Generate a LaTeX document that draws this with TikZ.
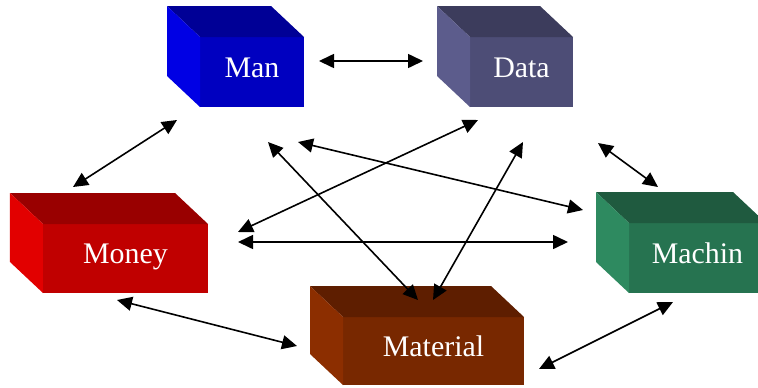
\documentclass[tikz,border=0pt]{standalone}
\usepackage{fontspec}
\setmainfont{Liberation Serif}
\usetikzlibrary{arrows.meta}
\definecolor{manF}{RGB}{0,0,192}
\definecolor{manT}{RGB}{0,0,150}
\definecolor{manS}{RGB}{0,0,228}
\definecolor{dataF}{RGB}{77,77,118}
\definecolor{dataT}{RGB}{60,60,92}
\definecolor{dataS}{RGB}{92,92,140}
\definecolor{monF}{RGB}{192,0,0}
\definecolor{monT}{RGB}{153,0,0}
\definecolor{monS}{RGB}{226,0,0}
\definecolor{matF}{RGB}{120,40,0}
\definecolor{matT}{RGB}{94,30,0}
\definecolor{matS}{RGB}{140,46,0}
\definecolor{macF}{RGB}{38,115,80}
\definecolor{macT}{RGB}{31,90,63}
\definecolor{macS}{RGB}{46,138,96}
\tikzset{
  x=1bp, y=-1bp,
  boxface/.style={inner sep=0pt, outer sep=0pt, text=white,
    font=\fontsize{30}{33}\selectfont, text height=20bp, text depth=10bp},
  link/.style={line width=1.6bp, {Triangle[length=15bp,width=14bp]}-{Triangle[length=15bp,width=14bp]}},
}
\newcommand{\mycube}[9]{%
  % #1 name, #2 cx, #3 cy, #4 w, #5 h, #6 front, #7 top, #8 side, #9 label
  \node[boxface, fill=#6, minimum width=#4bp, minimum height=#5bp] (#1) at (#2,#3) {#9};
  \fill[#7] (#1.north west) -- (#1.north east) -- ++(-33,-31) -- ++(-#4,0) -- cycle;
  \fill[#8] (#1.north west) -- ++(-33,-31) -- ++(0,#5) -- (#1.south west) -- cycle;
}
\begin{document}
\begin{tikzpicture}
\useasboundingbox (0,0) rectangle (758,387);
\mycube{man}{252}{72}{104}{70}{manF}{manT}{manS}{Man}
\mycube{data}{521.5}{72}{103}{70}{dataF}{dataT}{dataS}{Data}
\mycube{money}{125.5}{258.5}{165}{69}{monF}{monT}{monS}{Money}
\mycube{material}{433.5}{351}{181}{68}{matF}{matT}{matS}{Material}
\mycube{machin}{697.5}{258}{137}{70}{macF}{macT}{macS}{Machin}
% arrow end points
\coordinate (manR) at (319,61);
\coordinate (dataL) at (423,61);
\coordinate (manBL) at (177,120);
\coordinate (moneyTL) at (73,187);
\coordinate (dataB1) at (478,120);
\coordinate (moneyR1) at (238,232);
\coordinate (manB1) at (268,142);
\coordinate (matT1) at (418,300);
\coordinate (manB2) at (298,142);
\coordinate (machL1) at (583,210);
\coordinate (dataB2) at (523,142);
\coordinate (matT2) at (433,300);
\coordinate (moneyR2) at (238,242);
\coordinate (machL2) at (568,242);
\coordinate (dataB3) at (598,143);
\coordinate (machT) at (658,187);
\coordinate (moneyB) at (117,300);
\coordinate (matL) at (297,346);
\coordinate (matR) at (539,369);
\coordinate (machB) at (673,302);
\draw[link] (manR) -- (dataL);
\draw[link] (manBL) -- (moneyTL);
\draw[link] (dataB1) -- (moneyR1);
\draw[link] (manB1) -- (matT1);
\draw[link] (manB2) -- (machL1);
\draw[link] (dataB2) -- (matT2);
\draw[link] (moneyR2) -- (machL2);
\draw[link] (dataB3) -- (machT);
\draw[link] (moneyB) -- (matL);
\draw[link] (matR) -- (machB);
\end{tikzpicture}
\end{document}
